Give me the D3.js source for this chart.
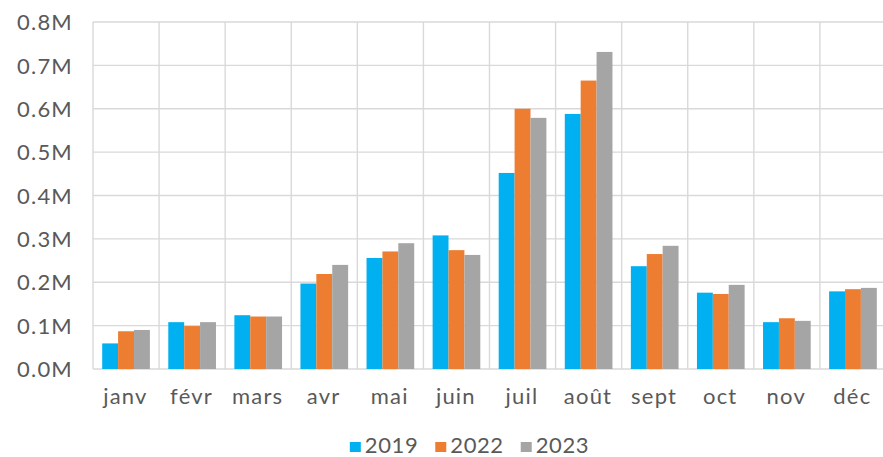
<!DOCTYPE html>
<html>
<head>
<meta charset="utf-8">
<script src="https://cdn.jsdelivr.net/npm/d3@7"></script>
<style>
  html, body { margin: 0; padding: 0; background: #fff; }
  svg { display: block; font-family: Lato, "Noto Sans", sans-serif; }
</style>
</head>
<body>
<svg id="chart" width="883" height="457"></svg>
<script>
// data (values in millions)
var months = ['janv', 'févr', 'mars', 'avr', 'mai', 'juin', 'juil', 'août', 'sept', 'oct', 'nov', 'déc'];
var seriesNames = ['2019', '2022', '2023'];
var values2019 = [0.059, 0.108, 0.124, 0.197, 0.256, 0.308, 0.452, 0.588, 0.237, 0.176, 0.108, 0.179];
var values2022 = [0.087, 0.099, 0.121, 0.219, 0.271, 0.274, 0.600, 0.665, 0.265, 0.173, 0.117, 0.184];
var values2023 = [0.090, 0.108, 0.121, 0.240, 0.290, 0.263, 0.579, 0.731, 0.284, 0.194, 0.111, 0.187];
var yTicks = [0, 0.1, 0.2, 0.3, 0.4, 0.5, 0.6, 0.7, 0.8];

var colors = { '2019': '#00B0F0', '2022': '#ED7D31', '2023': '#A5A5A5' };
var seriesValues = { '2019': values2019, '2022': values2022, '2023': values2023 };

var plotLeft = 93, plotTop = 22, plotRight = 886, baseY = 369;
var fontSize = '22px';

var svg = d3.select('#chart');

var x0 = d3.scaleBand().domain(months).range([plotLeft, plotRight]).padding(0);
var gap = 9.2;
var x1 = d3.scaleBand().domain(seriesNames).range([gap, x0.bandwidth() - gap]).padding(0);
var y = d3.scaleLinear().domain([0, 0.8]).range([baseY, plotTop]);

// grid
var grid = svg.append('g').attr('stroke', '#D9D9D9').attr('stroke-width', 1.4);
grid.selectAll('line.h').data(yTicks).enter().append('line')
  .attr('x1', plotLeft).attr('x2', plotRight)
  .attr('y1', function(d) { return y(d); }).attr('y2', function(d) { return y(d); });
var bounds = months.map(function(m) { return x0(m); }).concat([plotRight]);
grid.selectAll('line.v').data(bounds).enter().append('line')
  .attr('x1', function(d) { return d; }).attr('x2', function(d) { return d; })
  .attr('y1', plotTop).attr('y2', baseY);

// bars
var groups = svg.selectAll('g.month').data(months).enter().append('g')
  .attr('transform', function(m) { return 'translate(' + x0(m) + ',0)'; });
groups.selectAll('rect').data(function(m, i) {
  return seriesNames.map(function(s) { return { key: s, v: seriesValues[s][i] }; });
}).enter().append('rect')
  .attr('x', function(d) { return x1(d.key); })
  .attr('width', x1.bandwidth())
  .attr('y', function(d) { return y(d.v); })
  .attr('height', function(d) { return baseY - y(d.v); })
  .attr('fill', function(d) { return colors[d.key]; });

// y axis labels
var yAxis = d3.axisLeft(y).tickValues(yTicks).tickSize(0).tickPadding(0)
  .tickFormat(function(d) { return d3.format('.1f')(d) + 'M'; });
var ya = svg.append('g').attr('transform', 'translate(73,0)').call(yAxis);
ya.attr('font-family', null).attr('font-size', null);
ya.select('.domain').remove();
ya.selectAll('text').attr('fill', '#595959').style('font-size', fontSize)
  .style('letter-spacing', '1.2px').attr('dy', '0.35em');

// x axis labels
var xAxis = d3.axisBottom(x0).tickSize(0).tickPadding(0);
var xa = svg.append('g').attr('transform', 'translate(0,' + 388 + ')').call(xAxis);
xa.attr('font-family', null).attr('font-size', null);
xa.select('.domain').remove();
xa.selectAll('text').attr('fill', '#595959').style('font-size', fontSize)
  .style('letter-spacing', '1.2px').attr('dy', '0.71em').attr('x', -0.6);

// legend
var legend = svg.append('g');
var items = legend.selectAll('g').data(seriesNames).enter().append('g');
items.append('rect').attr('width', 11).attr('height', 10).attr('y', -11)
  .attr('fill', function(d) { return colors[d]; });
items.append('text').attr('x', 15).attr('fill', '#595959')
  .style('font-size', fontSize).style('letter-spacing', '0.6px').text(function(d) { return d; });
var cx = 0;
items.each(function() {
  var g = d3.select(this);
  g.attr('transform', 'translate(' + cx + ',0)');
  cx += 15 + g.select('text').node().getComputedTextLength() + 17;
});
cx -= 17;
legend.attr('transform', 'translate(' + (469.5 - cx / 2) + ',' + 453 + ')');
</script>
</body>
</html>
